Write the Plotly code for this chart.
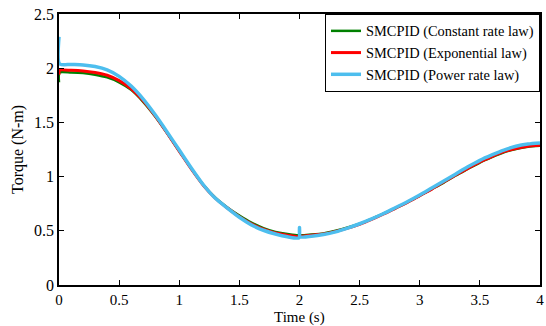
import plotly.graph_objects as go

t = [0, 0.005, 0.1, 0.2, 0.3, 0.4, 0.5, 0.6, 0.7, 0.8, 0.9, 1.0, 1.1, 1.2, 1.3, 1.4, 1.5,
     1.6, 1.7, 1.8, 1.9, 1.995, 2.0, 2.005, 2.1, 2.2, 2.3, 2.4, 2.5, 2.6, 2.7, 2.8, 2.9,
     3.0, 3.1, 3.2, 3.3, 3.4, 3.5, 3.6, 3.7, 3.8, 3.9, 4.0]

constant_rate = [1.87, 1.96, 1.96, 1.955, 1.94, 1.915, 1.87, 1.80, 1.69, 1.555, 1.40, 1.235,
                 1.075, 0.925, 0.805, 0.715, 0.64, 0.575, 0.525, 0.49, 0.47, 0.46, 0.47, 0.46,
                 0.465, 0.475, 0.50, 0.53, 0.565, 0.61, 0.66, 0.71, 0.765, 0.825, 0.885, 0.945,
                 1.01, 1.07, 1.13, 1.18, 1.225, 1.255, 1.275, 1.285]

exponential = [1.94, 1.98, 1.98, 1.975, 1.96, 1.935, 1.885, 1.81, 1.70, 1.56, 1.40, 1.235,
               1.07, 0.92, 0.80, 0.71, 0.63, 0.565, 0.515, 0.48, 0.46, 0.45, 0.52, 0.455,
               0.46, 0.47, 0.495, 0.525, 0.56, 0.605, 0.655, 0.71, 0.765, 0.825, 0.885, 0.95,
               1.015, 1.075, 1.135, 1.185, 1.23, 1.26, 1.28, 1.29]

power_rate = [2.29, 2.04, 2.035, 2.03, 2.015, 1.985, 1.925, 1.835, 1.715, 1.57, 1.41, 1.245,
              1.08, 0.925, 0.80, 0.71, 0.625, 0.555, 0.505, 0.47, 0.445, 0.435, 0.53, 0.445,
              0.45, 0.465, 0.49, 0.525, 0.565, 0.61, 0.66, 0.715, 0.77, 0.83, 0.895, 0.96,
              1.025, 1.09, 1.15, 1.20, 1.245, 1.28, 1.30, 1.31]

x_ticks = [0, 0.5, 1, 1.5, 2, 2.5, 3, 3.5, 4]
x_ticktext = ["0", "0.5", "1", "1.5", "2", "2.5", "3", "3.5", "4"]
y_ticks = [0, 0.5, 1, 1.5, 2, 2.5]
y_ticktext = ["0", "0.5", "1", "1.5", "2", "2.5"]

names = ["SMCPID (Constant rate law)", "SMCPID (Exponential law)", "SMCPID (Power rate law)"]
colors = ["#008000", "#ff0000", "#4dbeee"]
widths = [2.5, 3, 3.5]

fig = go.Figure()
for y, n, c, w in zip([constant_rate, exponential, power_rate], names, colors, widths):
    fig.add_trace(go.Scatter(x=t, y=y, mode="lines", name=n,
                             line=dict(color=c, width=w, shape="spline", smoothing=0.7)))

font = "Liberation Serif"
fig.update_layout(
    width=546, height=326,
    margin=dict(l=59, r=2, t=14, b=41),
    plot_bgcolor="white", paper_bgcolor="white",
    font=dict(family=font, size=16, color="black"),
    legend=dict(x=1, y=1, xanchor="right", yanchor="top",
                bgcolor="white", bordercolor="black", borderwidth=1,
                font=dict(family=font, size=14.4), tracegroupgap=0),
    xaxis=dict(range=[0, 4], tickvals=x_ticks, ticktext=x_ticktext,
               ticks="inside", ticklen=5, tickcolor="black", showgrid=False,
               showline=True, linecolor="black", linewidth=1.5, mirror="ticks",
               zeroline=False, ticklabeloverflow="allow",
               tickfont=dict(size=15)),
    yaxis=dict(range=[0, 2.5], tickvals=y_ticks, ticktext=y_ticktext,
               ticks="inside", ticklen=5, tickcolor="black", showgrid=False,
               showline=True, linecolor="black", linewidth=1.5, mirror="ticks",
               zeroline=False, ticklabeloverflow="allow",
               tickfont=dict(size=16),
               title=dict(text="Torque (N-m)", standoff=6, font=dict(size=16))),
    annotations=[dict(text="Time (s)", xref="paper", yref="paper", x=0.5, y=0,
                      xanchor="center", yanchor="bottom", yshift=-42, showarrow=False,
                      borderpad=0, font=dict(family=font, size=15))],
)

fig.write_html("out.html")
